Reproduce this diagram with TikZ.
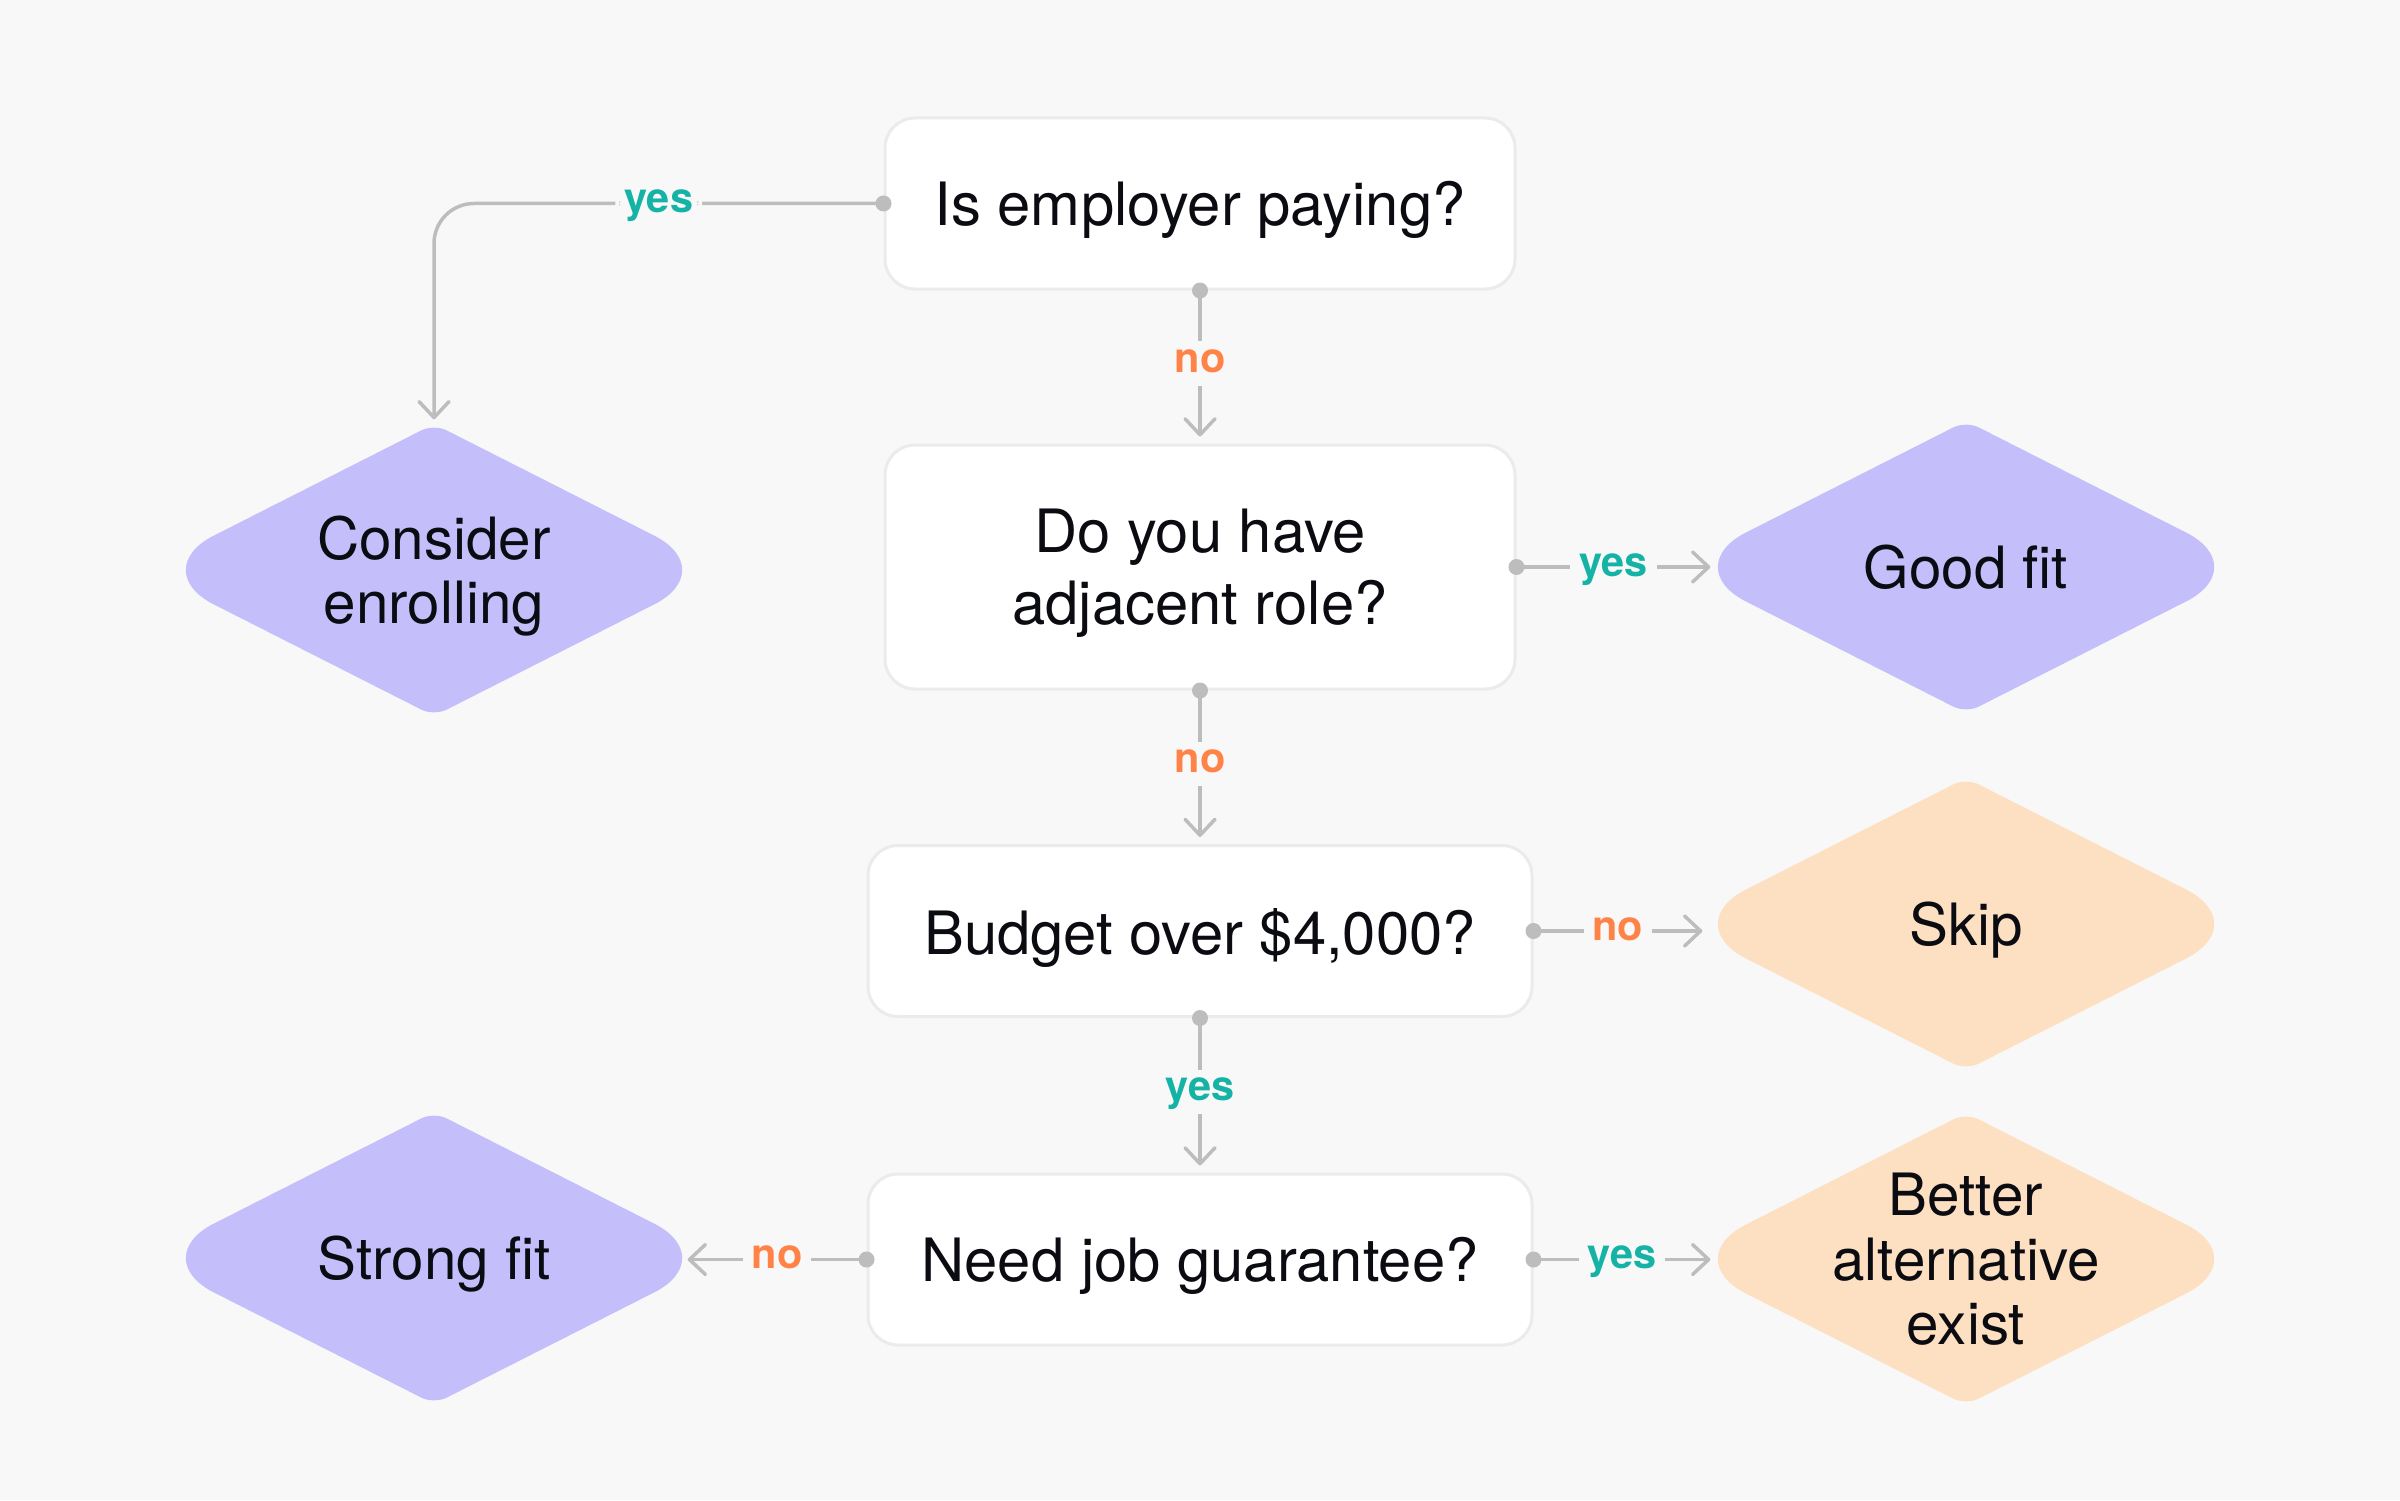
\documentclass[tikz,border=0pt]{standalone}
\usepackage{fontspec}
\setmainfont{TeX Gyre Heros}
\usetikzlibrary{arrows.meta,calc}
\definecolor{bg}{HTML}{F8F8F8}
\definecolor{boxline}{HTML}{EBEBEB}
\definecolor{ink}{HTML}{0B0B12}
\definecolor{linegray}{HTML}{BDBDBD}
\definecolor{yesc}{HTML}{14B3A5}
\definecolor{noc}{HTML}{FF8247}
\definecolor{lav}{HTML}{C4BEFB}
\definecolor{peach}{HTML}{FDDFC1}
\newcommand\qfont{\fontsize{17pt}{20.5pt}\selectfont}
\newcommand\dfont{\fontsize{16.6pt}{18.3pt}\selectfont}
\newcommand\lfont{\bfseries\fontsize{11.8pt}{14pt}\selectfont}
\newcommand\rdiam[4]{%
  \fill[#3, shift={#2}] (-220.2,34.4) -- (-12.5,139.7) .. controls (-5.6,143.2) and (5.6,143.2) .. (12.5,139.7)
    -- (220.2,34.4) .. controls (257.5,15.5) and (257.5,-15.5) .. (220.2,-34.4)
    -- (12.5,-139.7) .. controls (5.6,-143.2) and (-5.6,-143.2) .. (-12.5,-139.7)
    -- (-220.2,-34.4) .. controls (-257.5,-15.5) and (-257.5,15.5) .. cycle;
  \node[dnode] (#1) at #2 {#4};
}
\tikzset{
  qbox/.style={rectangle, rounded corners=3mm, draw=boxline, line width=0.3mm, fill=white,
    minimum width=63mm, minimum height=17.1mm, font=\qfont, text=ink, align=center, inner sep=0pt,
    text depth=0pt},
  dnode/.style={rectangle, minimum width=49.6mm, minimum height=28.6mm, inner sep=0pt,
    font=\dfont, text=ink, align=center, text depth=0pt},
  conn/.style={draw=linegray, line width=0.35mm, -{Straight Barb[length=1.6mm, width=3mm, round]}},
  lbl/.style={fill=bg, font=\lfont, inner xsep=0.9mm, inner ysep=1.3mm, text height=1ex, text depth=0pt},
  yeslbl/.style={lbl, text=yesc},
  nolbl/.style={lbl, text=noc},
  dotc/.style={fill=linegray},
}
\begin{document}
\begin{tikzpicture}[x=0.1mm, y=-0.1mm]
\fill[bg] (0,0) rectangle (2400,1500);
\useasboundingbox (0,0) rectangle (2400,1500);

% question boxes
\node[qbox] (b1) at (1200,203.5) {Is employer paying?};
\node[qbox, minimum height=24.4mm] (b2) at (1200,567) {Do you have\\adjacent role?};
\node[qbox, minimum width=66.4mm] (b3) at (1200,931) {Budget over \$4,000?};
\node[qbox, minimum width=66.4mm] (b4) at (1200,1259.5) {Need job guarantee?};

% outcome diamonds
\rdiam{d1}{(434,570)}{lav}{Consider\\enrolling}
\rdiam{d2}{(1966,567)}{lav}{Good fit}
\rdiam{d3}{(1966,924)}{peach}{Skip}
\rdiam{d4}{(434,1258)}{lav}{Strong fit}
\rdiam{d5}{(1966,1259)}{peach}{Better\\alternative\\exist}

% arrow end points
\coordinate (e1) at ($(d1.north)+(0,-7)$);
\coordinate (e2) at ($(b2.north)+(0,-7)$);
\coordinate (e3) at ($(b2.east -| d2.west)+(-7,0)$);
\coordinate (e4) at ($(b3.north)+(0,-7)$);
\coordinate (e5) at ($(b3.east -| d3.west)+(-15,0)$);
\coordinate (e6) at ($(b4.north)+(0,-7)$);
\coordinate (e7) at ($(b4.west -| d4.east)+(5,0)$);
\coordinate (e8) at ($(b4.east -| d5.west)+(-7,0)$);

% connectors
\draw[conn, rounded corners=4mm] (b1.west) -| (e1) node[yeslbl, pos=0.25] {yes};
\draw[conn] (b1.south) -- (e2) node[nolbl, midway] {no};
\draw[conn] (b2.east) -- (e3) node[yeslbl, midway] {yes};
\draw[conn] (b2.south) -- (e4) node[nolbl, midway] {no};
\draw[conn] (b3.east) -- (e5) node[nolbl, midway] {no};
\draw[conn] (b3.south) -- (e6) node[yeslbl, midway] {yes};
\draw[conn] (b4.west) -- (e7) node[nolbl, midway] {no};
\draw[conn] (b4.east) -- (e8) node[yeslbl, midway] {yes};

% start dots
\foreach \p in {b1.west, b1.south, b2.east, b2.south, b3.east, b3.south, b4.west, b4.east}
  \fill[dotc] (\p) circle[radius=0.8mm];
\end{tikzpicture}
\end{document}
